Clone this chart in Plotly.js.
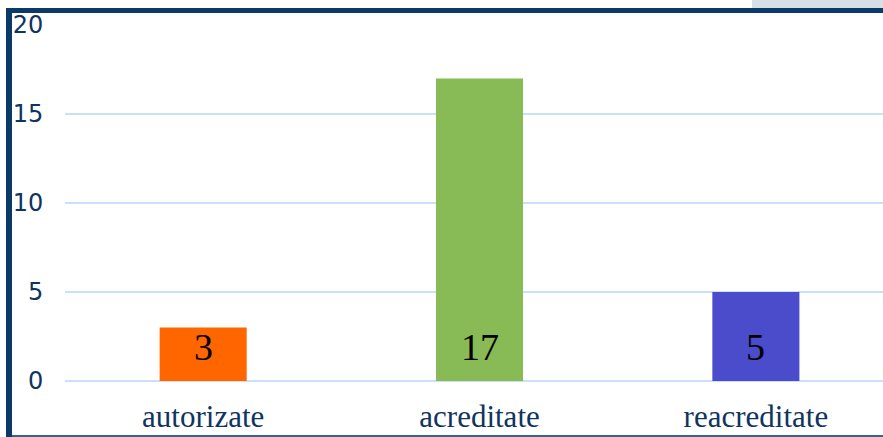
<!DOCTYPE html>
<html>
<head>
<meta charset="utf-8">
<script src="https://cdn.plot.ly/plotly-3.0.1.min.js"></script>
<style>
  html, body { margin: 0; padding: 0; background: #ffffff; }
  #wrap { position: relative; width: 883px; height: 437px; overflow: hidden; }
  #chart { position: absolute; left: 0; top: 0; width: 883px; height: 437px; }
  .deco { position: absolute; pointer-events: none; }
</style>
</head>
<body>
<div id="wrap">
  <div id="chart"></div>
  <div class="deco" style="left:752px;top:0;width:131px;height:8px;background:#d8dee6;"></div>
  <div class="deco" style="left:6px;top:8px;width:877px;height:5px;background:#0b3a68;"></div>
  <div class="deco" style="left:6px;top:8px;width:6px;height:429px;background:#0b3a68;"></div>
  <div class="deco" style="left:12px;top:435px;width:871px;height:2px;background:#3b6288;"></div>
</div>
<script>
const categories = ["autorizate", "acreditate", "reacreditate"];
const values = [3, 17, 5];
const barColors = ["#ff6600", "#88bb55", "#4a4ccc"];
const yTicks = [0, 5, 10, 15, 20];

const trace = {
  type: "bar",
  x: categories,
  y: values,
  marker: { color: barColors, line: { width: 0 } },
  hoverinfo: "none"
};

const annotations = categories.map((c, i) => ({
  x: c,
  y: 0,
  xref: "x",
  yref: "y",
  text: String(values[i]),
  showarrow: false,
  yanchor: "bottom",
  yshift: 11,
  font: { family: "Liberation Serif, Times New Roman, serif", size: 38, color: "#000000" }
}));

const layout = {
  width: 883,
  height: 437,
  margin: { l: 65, r: 0, t: 25, b: 56 },
  paper_bgcolor: "rgba(0,0,0,0)",
  plot_bgcolor: "rgba(0,0,0,0)",
  showlegend: false,
  bargap: 0.685,
  xaxis: {
    type: "category",
    range: [-0.5, 2.46],
    showgrid: false,
    showline: false,
    zeroline: false,
    ticks: "outside",
    ticklen: 8,
    tickcolor: "rgba(0,0,0,0)",
    tickfont: { family: "Liberation Serif, Times New Roman, serif", size: 31, color: "#0f3460" },
    fixedrange: true
  },
  yaxis: {
    range: [0, 20],
    tickvals: yTicks,
    ticktext: yTicks.map(String),
    showgrid: true,
    gridcolor: "#c9e1f8",
    gridwidth: 2,
    zeroline: true,
    zerolinecolor: "#c9e1f8",
    zerolinewidth: 2,
    showline: false,
    ticks: "outside",
    ticklen: 16,
    tickcolor: "rgba(0,0,0,0)",
    tickfont: { family: "DejaVu Sans, Verdana, sans-serif", size: 24, color: "#0f3460" },
    fixedrange: true
  },
  annotations: annotations
};

Plotly.newPlot("chart", [trace], layout, { displayModeBar: false, staticPlot: true });
</script>
</body>
</html>
